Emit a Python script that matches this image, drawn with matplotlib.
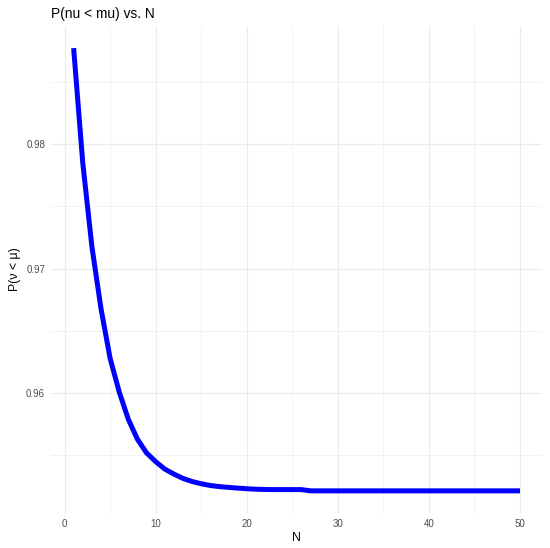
import matplotlib
matplotlib.use('Agg')
import matplotlib.pyplot as plt
from matplotlib.ticker import MultipleLocator
import numpy as np

# Values
n_values = list(range(1, 51))
prob_values = [
    0.9877, 0.9785, 0.9718, 0.9668, 0.9628, 0.9601, 0.9579, 0.9563, 0.9552, 0.9545,
    0.9539, 0.9535, 0.95315, 0.9529, 0.95272, 0.95258, 0.95249, 0.95243, 0.95237, 0.95232,
    0.95228, 0.95226, 0.95225, 0.95225, 0.95225, 0.95225, 0.95215, 0.95215, 0.95215, 0.95215,
    0.95215, 0.95215, 0.95215, 0.95215, 0.95215, 0.95215, 0.95215, 0.95215, 0.95215, 0.95215,
    0.95215, 0.95215, 0.95215, 0.95215, 0.95215, 0.95215, 0.95215, 0.95215, 0.95215, 0.95215,
]
x_ticks = [0, 10, 20, 30, 40, 50]
y_ticks = [0.96, 0.97, 0.98]
y_tick_labels = ['0.96', '0.97', '0.98']


def main():
    plt.rcParams['font.family'] = ['Liberation Sans', 'DejaVu Sans']

    # Create figure and axis
    fig = plt.figure(figsize=(5.5, 5.48), dpi=100)
    ax = fig.add_axes([0.0933, 0.0639, 0.8927, 0.8887])

    # Plot the curve
    ax.plot(n_values, prob_values, color='#0000FF', linewidth=3.6,
            solid_capstyle='butt', solid_joinstyle='round', zorder=3)

    # Limits with ggplot-like expansion
    x = np.array(n_values)
    y = np.array(prob_values)
    xr = x.max() - x.min()
    yr = y.max() - y.min()
    ax.set_xlim(x.min() - 0.05 * xr, x.max() + 0.05 * xr)
    ax.set_ylim(y.min() - 0.05 * yr, y.max() + 0.05 * yr)

    # Ticks and grid (theme_minimal look)
    ax.set_xticks(x_ticks)
    ax.set_yticks(y_ticks)
    ax.set_yticklabels(y_tick_labels)
    ax.xaxis.set_minor_locator(MultipleLocator(5))
    ax.yaxis.set_minor_locator(MultipleLocator(0.005))
    ax.grid(which='major', color='#EBEBEB', linewidth=0.8)
    ax.grid(which='minor', color='#EBEBEB', linewidth=0.45)
    ax.set_axisbelow(True)
    ax.tick_params(which='both', length=0)
    ax.tick_params(axis='x', labelsize=7.0, labelcolor='#4D4D4D', pad=4.5)
    ax.tick_params(axis='y', labelsize=7.0, labelcolor='#4D4D4D', pad=4.5)
    for spine in ax.spines.values():
        spine.set_visible(False)

    # Labels
    ax.set_xlabel('N', fontsize=8.8, labelpad=2)
    ax.set_ylabel('P(ν < μ)', fontsize=8.8, labelpad=4)
    ax.set_title('P(nu < mu) vs. N', fontsize=9.9, loc='left', pad=6)

    # Save figure
    fig.savefig('out.png', dpi=100)
    plt.close()


if __name__ == "__main__":
    main()
